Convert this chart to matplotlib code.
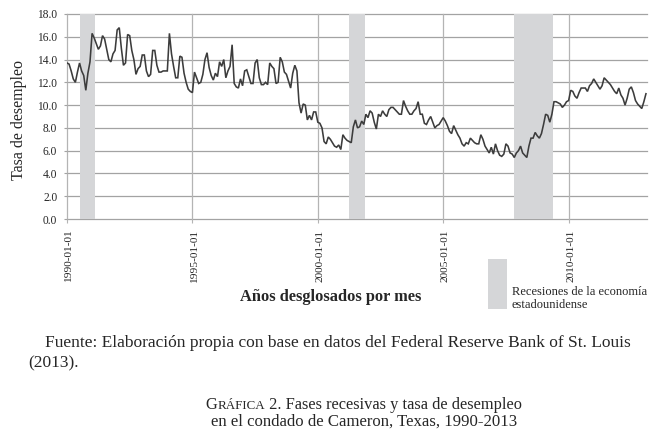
import numpy as np
import matplotlib
matplotlib.use("Agg")
import matplotlib.pyplot as plt
from matplotlib.patches import Rectangle
from matplotlib.transforms import ScaledTranslation

# ---------------- data (monthly unemployment rate, Cameron County, TX) ----------------
start_year = 1990
rate_1990 = [13.7, 13.6, 13.0, 12.3, 12.0, 12.9, 13.7, 13.0, 12.6, 11.3, 12.8, 13.8]
rate_1991 = [16.3, 15.9, 15.4, 14.9, 15.2, 16.1, 15.8, 14.9, 14.0, 13.8, 14.5, 14.8]
rate_1992 = [16.6, 16.8, 15.0, 13.5, 13.7, 16.2, 16.1, 14.8, 14.0, 12.7, 13.2, 13.4]
rate_1993 = [14.4, 14.4, 13.0, 12.5, 12.7, 14.8, 14.8, 13.5, 12.9, 12.9, 13.0, 13.0]
rate_1994 = [13.0, 16.3, 14.5, 13.4, 12.4, 12.4, 14.3, 14.2, 12.8, 12.0, 11.4, 11.2]
rate_1995 = [11.1, 12.9, 12.4, 11.9, 12.0, 12.7, 14.0, 14.6, 13.3, 12.6, 12.2, 12.8]
rate_1996 = [12.5, 13.8, 13.4, 14.0, 12.4, 13.0, 13.4, 15.3, 11.9, 11.6, 11.5, 12.3]
rate_1997 = [11.7, 13.0, 13.1, 12.5, 11.9, 11.9, 13.7, 14.0, 12.4, 11.8, 11.8, 12.0]
rate_1998 = [11.8, 13.7, 13.4, 13.2, 11.9, 12.0, 14.2, 13.8, 12.9, 12.7, 12.1, 11.5]
rate_1999 = [12.8, 13.5, 13.0, 10.2, 9.3, 10.1, 10.0, 8.7, 9.1, 8.7, 9.4, 9.4]
rate_2000 = [8.5, 8.4, 8.0, 6.8, 6.6, 7.2, 7.0, 6.7, 6.4, 6.3, 6.5, 6.1]
rate_2001 = [7.4, 7.1, 6.9, 6.8, 6.7, 8.1, 8.7, 8.0, 8.1, 8.6, 8.3, 9.2]
rate_2002 = [8.9, 9.5, 9.3, 8.5, 7.9, 9.2, 9.0, 9.5, 9.2, 9.0, 9.6, 9.8]
rate_2003 = [9.8, 9.6, 9.4, 9.2, 9.2, 10.4, 9.9, 9.5, 9.2, 9.2, 9.5, 9.7]
rate_2004 = [10.3, 9.2, 9.2, 8.4, 8.3, 8.7, 9.0, 8.5, 8.0, 8.2, 8.3, 8.6]
rate_2005 = [8.9, 8.6, 8.2, 7.7, 7.5, 8.2, 7.8, 7.4, 7.1, 6.6, 6.4, 6.7]
rate_2006 = [6.6, 7.1, 6.9, 6.7, 6.6, 6.6, 7.4, 7.0, 6.4, 6.1, 5.8, 6.3]
rate_2007 = [5.7, 6.6, 6.0, 5.6, 5.5, 5.7, 6.6, 6.4, 5.8, 5.7, 5.4, 5.8]
rate_2008 = [6.0, 6.4, 5.8, 5.6, 5.4, 6.4, 7.1, 7.1, 7.6, 7.3, 7.1, 7.5]
rate_2009 = [8.3, 9.2, 9.1, 8.5, 9.2, 10.3, 10.3, 10.2, 10.1, 9.8, 10.0, 10.3]
rate_2010 = [10.4, 11.3, 11.2, 10.8, 10.6, 11.1, 11.5, 11.5, 11.5, 11.2, 11.7, 11.9]
rate_2011 = [12.3, 12.0, 11.7, 11.4, 11.7, 12.4, 12.2, 12.0, 11.8, 11.5, 11.2, 11.0]
rate_2012 = [11.5, 10.9, 10.6, 10.0, 10.6, 11.4, 11.6, 11.1, 10.4, 10.1, 9.9, 9.7]
rate_2013 = [10.3, 11.0]

rates = (rate_1990 + rate_1991 + rate_1992 + rate_1993 + rate_1994 + rate_1995 +
         rate_1996 + rate_1997 + rate_1998 + rate_1999 + rate_2000 + rate_2001 +
         rate_2002 + rate_2003 + rate_2004 + rate_2005 + rate_2006 + rate_2007 +
         rate_2008 + rate_2009 + rate_2010 + rate_2011 + rate_2012 + rate_2013)

tick_labels = ["1990-01-01", "1995-01-01", "2000-01-01", "2005-01-01", "2010-01-01"]
y_ticks = [0, 2, 4, 6, 8, 10, 12, 14, 16, 18]

# US recessions (first and last month shaded)
rec_start = ["1990-07", "2001-04", "2007-11"]
rec_end = ["1991-02", "2001-11", "2009-05"]

ylabel = "Tasa de desempleo"
xlabel = "Años desglosados por mes"
legend_lines = ["Recesiones de la economía", "estadounidense"]
source_1 = "Fuente: Elaboración propia con base en datos del Federal Reserve Bank of St. Louis"
source_2 = "(2013)."
cap_first = "G"
cap_small = "RÁFICA"
cap_rest = " 2. Fases recesivas y tasa de desempleo"
cap_line2 = "en el condado de Cameron, Texas, 1990-2013"

# ---------------- helpers ----------------
def month_index(s):
    y, m = s.split("-")
    return (int(y) - start_year) * 12 + int(m) - 1

def tick_index(s):
    y, m, d = s.split("-")
    return (int(y) - start_year) * 12 + int(m) - 1

W, H = 658, 442
SERIF = ["Liberation Serif", "DejaVu Serif"]
TXT = "#262626"
GRID_H = "#a3a3a3"
GRID_V = "#b4b4b4"
SHADE = "#d5d6d8"

fig = plt.figure(figsize=(W / 100, H / 100), dpi=100)
fig.patch.set_facecolor("white")

def fx(px):
    return px / W

def fy(py):
    return 1 - py / H

ax = fig.add_axes([fx(67), fy(219), (647 - 67) / W, (219 - 14) / H])

x = np.arange(len(rates))
ax.set_xlim(0, len(rates) - 0.5)
ax.set_ylim(0, 18)

for v in y_ticks:
    ax.axhline(v, color=GRID_H, lw=0.9, zorder=0, clip_on=False)
xt = [tick_index(s) for s in tick_labels]
for t in xt:
    ax.axvline(t, color=GRID_V, lw=0.9, zorder=0, clip_on=False)

for s, e in zip(rec_start, rec_end):
    ax.axvspan(month_index(s), month_index(e) + 0.5, color=SHADE, lw=0, zorder=1)

ax.plot(x, rates, color="#3c3c3c", lw=1.15, zorder=3, solid_joinstyle="miter")

for sp in ax.spines.values():
    sp.set_visible(False)

ax.set_yticks(y_ticks)
ax.set_yticklabels([f"{v:.1f}" for v in y_ticks], fontfamily=SERIF, fontsize=8.3, color=TXT)
ax.set_xticks(xt)
ax.set_xticklabels(tick_labels, rotation=90, fontfamily=SERIF, fontsize=8.2, color=TXT)
ax.tick_params(axis="y", length=2, width=0.8, color=GRID_H, pad=5)
ax.tick_params(axis="x", length=3, width=0.8, color=GRID_V, pad=4.5)
shift = ScaledTranslation(2 / 100, 0, fig.dpi_scale_trans)
for lab in ax.get_xticklabels():
    lab.set_transform(lab.get_transform() + shift)

# ---------------- texts ----------------
fig.text(fx(19), fy(120), ylabel, rotation=90, ha="center", va="center",
         fontfamily=SERIF, fontsize=11.5, color=TXT)
fig.text(fx(331), fy(301), xlabel, ha="center", va="baseline",
         fontfamily=SERIF, fontsize=11.8, fontweight="bold", color=TXT)

fig.patches.append(Rectangle((fx(488), fy(309)), 19 / W, 50 / H,
                             transform=fig.transFigure, color=SHADE, lw=0))
fig.text(fx(512), fy(295), legend_lines[0], ha="left", va="baseline",
         fontfamily=SERIF, fontsize=9, color=TXT)
fig.text(fx(512), fy(308), legend_lines[1], ha="left", va="baseline",
         fontfamily=SERIF, fontsize=9, color=TXT)

fig.canvas.draw()
renderer = fig.canvas.get_renderer()

def width_of(t):
    return t.get_window_extent(renderer).width

def fit(t, target):
    w = width_of(t)
    t.set_fontsize(t.get_fontsize() * target / w)

s1 = fig.text(fx(45), fy(347), source_1, ha="left", va="baseline",
              fontfamily=SERIF, fontsize=11, color=TXT)
fit(s1, 584)
s2 = fig.text(fx(28), fy(367), source_2, ha="left", va="baseline",
              fontfamily=SERIF, fontsize=s1.get_fontsize(), color=TXT)

c2 = fig.text(fx(364), fy(426), cap_line2, ha="center", va="baseline",
              fontfamily=SERIF, fontsize=12, color=TXT)
fit(c2, 306)

S = c2.get_fontsize()
pieces = [(cap_first, S), (cap_small, S * 0.8), (cap_rest, S)]
objs = []
for s, size in pieces:
    objs.append(fig.text(0, fy(409), s, ha="left", va="baseline",
                         fontfamily=SERIF, fontsize=size, color=TXT))
total = sum(width_of(o) for o in objs)
scale = 315 / total
for o in objs:
    o.set_fontsize(o.get_fontsize() * scale)
widths = [width_of(o) for o in objs]
x0 = 364 - sum(widths) / 2
for o, w in zip(objs, widths):
    o.set_x(fx(x0))
    x0 += w

fig.savefig("out.png", dpi=100, facecolor="white")
